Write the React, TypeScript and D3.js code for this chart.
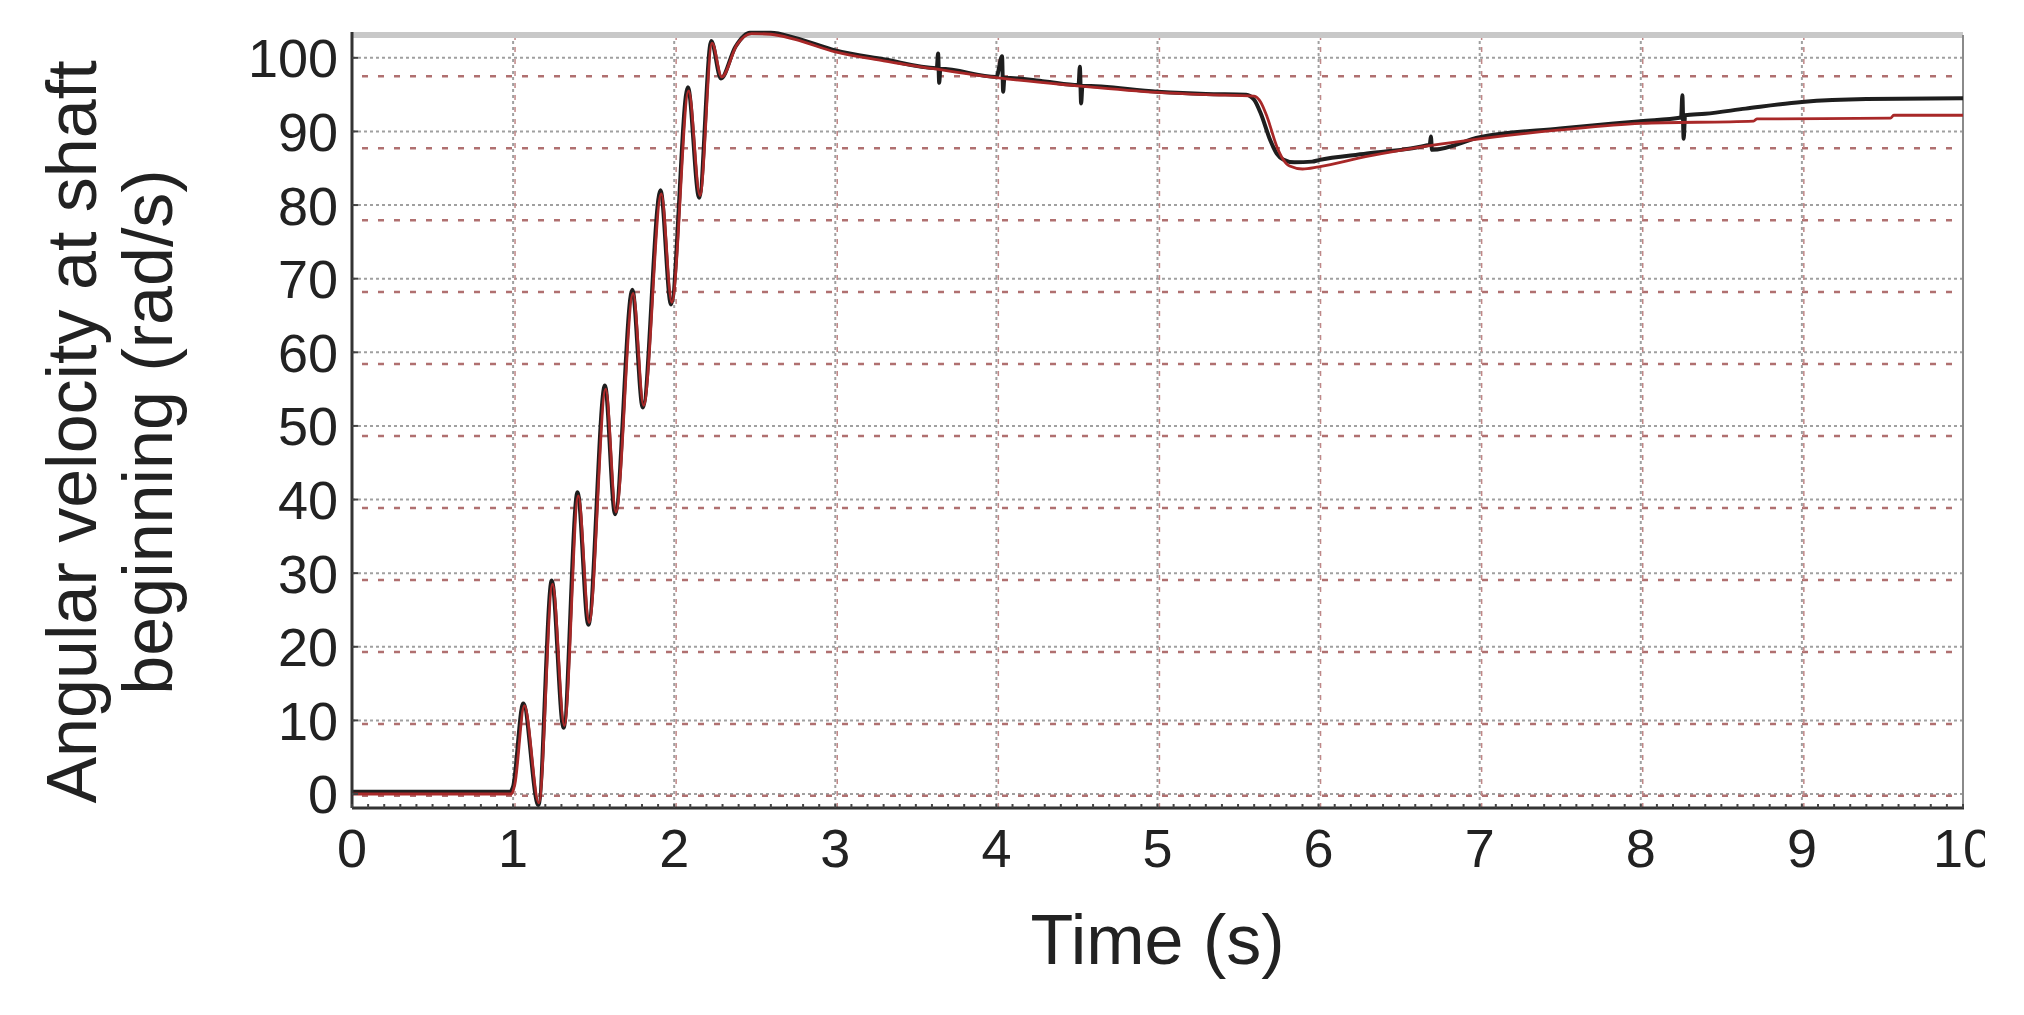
import React from "react";
import * as d3 from "d3";

const timeBlack = [0, 0.98, 1.0, 1.063, 1.157, 1.24, 1.313, 1.4, 1.467, 1.57, 1.633, 1.74, 1.805, 1.915, 1.98, 2.085, 2.155, 2.23, 2.29, 2.38, 2.47, 2.6, 2.75, 3.0, 3.3, 3.63, 3.638, 3.645, 3.652, 4.0, 4.035, 4.042, 4.05, 4.3, 4.51, 4.518, 4.526, 4.534, 5.0, 5.3, 5.55, 5.6, 5.64, 5.7, 5.74, 5.78, 5.85, 5.96, 6.0, 6.3, 6.69, 6.697, 6.704, 7.0, 7.5, 8.0, 8.25, 8.258, 8.266, 8.275, 8.4, 8.65, 9.0, 9.4, 10];
const speedBlack = [0.3, 0.3, 1.0, 12.3, -1.5, 29, 9, 41, 23, 55.5, 38, 68.5, 52.5, 82, 66.5, 96, 81, 102.3, 97.2, 101.5, 103.4, 103.4, 102.7, 101.0, 99.8, 98.6, 100.6, 96.6, 98.5, 97.4, 100.2, 95.4, 97.3, 96.8, 96.3, 98.8, 93.8, 96.2, 95.4, 95.1, 95.0, 94.3, 92.5, 88.8, 87.0, 86.2, 85.8, 85.9, 86.1, 87.0, 88.2, 89.3, 87.5, 89.2, 90.4, 91.4, 91.9, 94.9, 89.0, 92.2, 92.4, 93.1, 94.0, 94.4, 94.5];

const timeRed = [0, 0.99, 1.01, 1.07, 1.16, 1.245, 1.318, 1.405, 1.472, 1.575, 1.638, 1.745, 1.81, 1.92, 1.985, 2.09, 2.16, 2.235, 2.295, 2.39, 2.48, 2.6, 2.75, 3.0, 3.3, 3.65, 4.0, 4.5, 5.0, 5.3, 5.6, 5.64, 5.68, 5.74, 5.78, 5.82, 5.9, 6.0, 6.3, 6.7, 7.0, 7.5, 8.0, 8.7, 8.72, 9.55, 9.57, 10];
const speedRed = [0.0, 0.0, 1.2, 12.0, -1.2, 28.5, 9.3, 40.5, 23.3, 55, 38.3, 68, 52.8, 81.5, 66.8, 95.5, 81.3, 102, 97.4, 101.8, 103.3, 103.2, 102.5, 100.8, 99.6, 98.4, 97.3, 96.2, 95.3, 95.0, 94.8, 94.0, 92.0, 88.0, 86.2, 85.3, 84.9, 85.2, 86.6, 88.1, 89.0, 90.2, 91.1, 91.4, 91.7, 91.8, 92.2, 92.2];

const xTicks = [0, 1, 2, 3, 4, 5, 6, 7, 8, 9, 10];
const yTicks = [0, 10, 20, 30, 40, 50, 60, 70, 80, 90, 100];
const xMinorTicks = d3.range(0, 10.001, 0.1);

const left = 352;
const right = 1963;
const top = 35;
const bottom = 808;

export default function App() {
  const x = d3.scaleLinear().domain([0, 10]).range([left, right]);
  const y = d3.scaleLinear().domain([-1.9, 103.1]).range([bottom, top]);
  // second (overlaid) figure grid, slightly shifted
  const yRed = d3.scaleLinear().domain([-1.69, 105.73]).range([bottom, top]);
  const xRed = d3.scaleLinear().domain([-0.012, 9.988]).range([left, right]);

  const line = d3.line<number>().curve(d3.curveMonotoneX);

  const blackPath = line
    .x((_, i) => x(timeBlack[i]))
    .y((d) => y(d))(speedBlack);
  const redPath = line
    .x((_, i) => x(timeRed[i]))
    .y((d) => y(d))(speedRed);

  const font = "'Liberation Sans', Arial, sans-serif";

  return (
    <svg
      width={1985}
      height={1015}
      style={{ position: "absolute", left: 0, top: 0, background: "#fff" }}
    >
      {/* grid */}
      <g>
        {yTicks.map((t) => (
          <line key={"gy" + t} x1={left} x2={right} y1={y(t)} y2={y(t)}
            stroke="#a0a0a0" strokeWidth={2} strokeDasharray="3 3" />
        ))}
        {yTicks.map((t) => (
          <line key={"ry" + t} x1={left + 10} x2={right} y1={yRed(t)} y2={yRed(t)}
            stroke="#b07070" strokeWidth={2.5} strokeDasharray="6 10" />
        ))}
        {xTicks.slice(1, -1).map((t) => (
          <line key={"gx" + t} x1={x(t)} x2={x(t)} y1={top} y2={bottom}
            stroke="#a0a0a0" strokeWidth={2} strokeDasharray="3 3" />
        ))}
        {xTicks.slice(1, -1).map((t) => (
          <line key={"rx" + t} x1={xRed(t)} x2={xRed(t)} y1={top} y2={bottom}
            stroke="#c08888" strokeWidth={1.5} strokeDasharray="5 7" />
        ))}
      </g>

      {/* frame */}
      <line x1={left} x2={right} y1={top} y2={top} stroke="#c8c8c8" strokeWidth={6} />
      <line x1={right} x2={right} y1={top} y2={bottom} stroke="#8a8a8a" strokeWidth={2} />

      {/* series */}
      <path d={blackPath ?? ""} fill="none" stroke="#1e1e1e" strokeWidth={4} strokeLinejoin="round" />
      <path d={redPath ?? ""} fill="none" stroke="#a82828" strokeWidth={2.8} strokeLinejoin="round" />

      {/* axes */}
      <line x1={left} x2={left} y1={top - 3} y2={bottom} stroke="#333" strokeWidth={3} />
      <line x1={left} x2={right + 1} y1={bottom} y2={bottom} stroke="#333" strokeWidth={3} />
      {xMinorTicks.map((t, i) => (
        <line key={"mx" + i} x1={x(t)} x2={x(t)} y1={bottom} y2={bottom - 4} stroke="#444" strokeWidth={2} />
      ))}
      {yTicks.map((t) => (
        <line key={"ty" + t} x1={left} x2={left + 6} y1={y(t)} y2={y(t)} stroke="#444" strokeWidth={2} />
      ))}

      {/* tick labels */}
      <g fontFamily={font} fontSize={54} fill="#222">
        {yTicks.map((t) => (
          <text key={"ly" + t} x={338} y={y(t)} dy="0.36em" textAnchor="end">
            {t}
          </text>
        ))}
        {xTicks.map((t) => (
          <text key={"lx" + t} x={x(t)} y={867} textAnchor="middle">
            {t}
          </text>
        ))}
      </g>

      {/* axis titles */}
      <text x={x(5)} y={964} fontFamily={font} fontSize={70} fill="#222" textAnchor="middle">
        Time (s)
      </text>
      <g fontFamily={font} fontSize={70} fill="#222" textAnchor="middle">
        <text transform="translate(96,432) rotate(-90)">Angular velocity at shaft</text>
        <text transform="translate(172,432) rotate(-90)">beginning (rad/s)</text>
      </g>
    </svg>
  );
}
